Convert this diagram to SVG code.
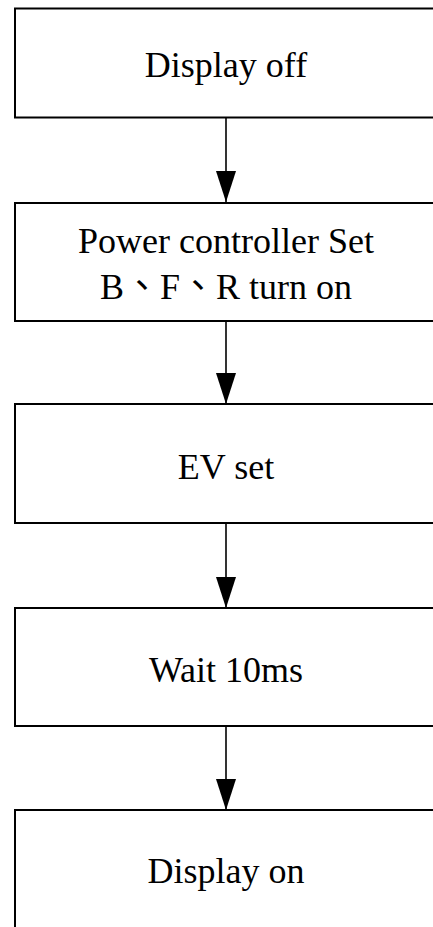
<svg xmlns="http://www.w3.org/2000/svg" width="433" height="927" viewBox="0 0 433 927">
<style>
.box{fill:#fff;stroke:#000;stroke-width:2}
.lbl{font-family:"Liberation Serif","Noto Sans CJK TC",serif;font-size:36px;fill:#000;text-anchor:middle}
.conn{stroke:#000;stroke-width:1.6;fill:none}
</style>
<defs>
<marker id="ah" viewBox="0 0 31 20" refX="31" refY="10" markerWidth="31" markerHeight="20" markerUnits="userSpaceOnUse" orient="auto">
<path d="M0,0 L31,10 L0,20 Z" fill="#000"/>
</marker>
</defs>
<rect width="433" height="927" fill="#fff"/>
<g id="n1"><rect class="box" x="15" y="8.5" width="430" height="109"/><text class="lbl" x="226" y="77">Display off</text></g>
<g id="n2"><rect class="box" x="15" y="203" width="430" height="118"/><text class="lbl" x="226" y="253">Power controller Set</text><text class="lbl" x="226" y="299">B、F、R turn on</text></g>
<g id="n3"><rect class="box" x="15" y="404" width="430" height="119"/><text class="lbl" x="226" y="479">EV set</text></g>
<g id="n4"><rect class="box" x="15" y="608" width="430" height="118"/><text class="lbl" x="226" y="682">Wait 10ms</text></g>
<g id="n5"><rect class="box" x="15" y="810" width="430" height="140"/><text class="lbl" x="226" y="883">Display on</text></g>
<g id="connectors">
<line class="conn" x1="226" y1="118" x2="226" y2="202" marker-end="url(#ah)"/>
<line class="conn" x1="226" y1="321" x2="226" y2="404" marker-end="url(#ah)"/>
<line class="conn" x1="226" y1="523" x2="226" y2="608" marker-end="url(#ah)"/>
<line class="conn" x1="226" y1="726" x2="226" y2="810" marker-end="url(#ah)"/>
</g>
</svg>
